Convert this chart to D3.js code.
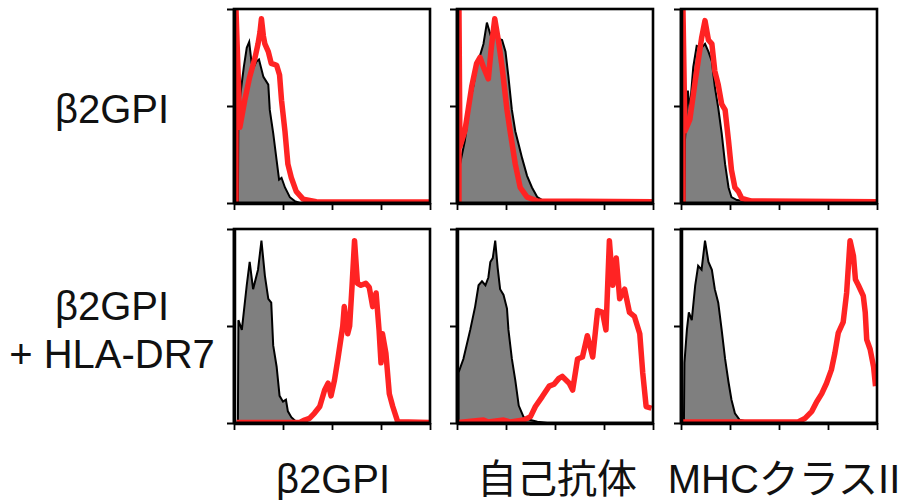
<!DOCTYPE html>
<html lang="ja">
<head>
  <meta charset="UTF-8">
  <title>β2GPI / HLA-DR7 flow cytometry</title>
  <style>
    body { margin: 0; background: #fff; }
    text { font-family: "Liberation Sans", Arial, "Noto Sans CJK JP", sans-serif; fill: #111; }
  </style>
</head>
<body>
  <script src="https://d3js.org/d3.v7.min.js"></script>
  <script>
    // row and column labels
    const rowLabels = [["β2GPI"], ["β2GPI", "+ HLA-DR7"]];
    const colLabels = ["β2GPI", "自己抗体", "MHCクラスII"];
    const yTicks = [0, 50, 100];

    // histograms: [log10 fluorescence, % of max]
    // row 1 : β2GPI only
    const singleB2gpiCtrl = [[0.08,0],[0.09,48],[0.14,58],[0.2,70],[0.26,80],[0.31,83],[0.36,72],[0.4,70],[0.46,73],[0.51,74],[0.6,65],[0.7,61],[0.73,48],[0.8,36],[0.87,22],[0.92,12],[0.97,13],[1.04,8],[1.14,3],[1.24,1],[1.34,0],[4,0]];
    const singleB2gpiStain = [[0.04,0],[0.04,100],[0.12,39],[0.22,53],[0.32,65],[0.43,75],[0.49,82],[0.53,88],[0.56,95],[0.6,86],[0.63,82],[0.7,78],[0.76,72],[0.87,71],[0.93,66],[0.97,53],[1.04,37],[1.1,20],[1.17,13],[1.27,6],[1.41,2],[1.68,0.7],[4,0.5]];
    const singleAutoAbCtrl = [[0.05,0],[0.06,20],[0.16,32],[0.27,53],[0.34,61],[0.4,70],[0.47,76],[0.54,82],[0.61,93],[0.68,87],[0.75,89],[0.82,85],[0.92,84],[0.99,78],[1.05,65],[1.12,48],[1.19,37],[1.26,30],[1.33,23],[1.43,14],[1.53,8],[1.64,3],[1.74,1.5],[1.98,0.5],[2.1,0],[4,0]];
    const singleAutoAbStain = [[0.04,0],[0.04,100],[0.06,29],[0.16,37],[0.3,60],[0.4,72],[0.47,75],[0.54,70],[0.64,64],[0.7,80],[0.77,95],[0.85,83],[0.92,70],[1.02,48],[1.09,36],[1.19,20],[1.29,8],[1.43,3],[1.64,1],[4,0.7]];
    const singleMhcCtrl = [[0.07,0],[0.08,32],[0.14,58],[0.18,48],[0.25,70],[0.32,81],[0.42,80],[0.49,82],[0.56,78],[0.63,73],[0.69,60],[0.76,49],[0.83,36],[0.9,20],[0.97,8],[1.03,3],[1.14,1.5],[1.31,1],[1.71,0.5],[1.8,0],[4,0]];
    const singleMhcStain = [[0.04,0],[0.04,100],[0.08,37],[0.18,43],[0.29,63],[0.35,73],[0.42,85],[0.49,94],[0.56,84],[0.63,82],[0.69,68],[0.76,61],[0.83,51],[0.9,48],[0.97,32],[1.03,17],[1.1,8],[1.17,6],[1.24,2.4],[1.44,1],[4,0.7]];
    // row 2 : β2GPI + HLA-DR7
    const dr7B2gpiCtrl = [[0.08,0],[0.09,53],[0.16,48],[0.26,71],[0.32,83],[0.39,69],[0.49,79],[0.56,94],[0.63,76],[0.7,64],[0.76,62],[0.8,40],[0.87,29],[0.93,14],[1.0,11],[1.06,12],[1.1,6],[1.17,3],[1.27,0.7],[1.34,0],[4,0]];
    const dr7B2gpiStain = [[0.05,0.3],[1.34,0.3],[1.44,1.5],[1.54,2.4],[1.64,5],[1.75,8.5],[1.85,17],[1.92,20.5],[1.98,14],[2.05,22],[2.12,33],[2.22,50],[2.25,60],[2.32,46],[2.36,50],[2.41,71],[2.46,94],[2.52,72],[2.59,71],[2.69,72],[2.76,70],[2.83,60],[2.9,67],[2.96,48],[3.0,31],[3.03,46],[3.1,36],[3.17,15],[3.24,8.5],[3.34,0.7],[4,0.3]];
    const dr7AutoAbCtrl = [[0.03,0],[0.03,26],[0.13,33],[0.27,48],[0.37,60],[0.44,71],[0.51,73],[0.58,71],[0.64,75],[0.68,83],[0.73,85],[0.78,94],[0.83,80],[0.88,69],[0.95,66],[1.02,59],[1.05,48],[1.12,33],[1.19,22],[1.26,9],[1.36,3],[1.5,1.5],[1.64,0.7],[1.84,0],[4,0]];
    const dr7AutoAbStain = [[0.03,0.3],[0.54,1.5],[0.64,0.5],[0.95,1.5],[1.09,0.5],[1.36,1.5],[1.5,3.3],[1.6,8.5],[1.74,13.6],[1.88,19],[1.98,20],[2.08,23],[2.15,24],[2.29,20.5],[2.36,17],[2.46,33],[2.56,34],[2.66,45],[2.77,34],[2.87,58],[2.97,57],[3.04,48],[3.11,94],[3.18,71],[3.25,85],[3.32,64],[3.42,69],[3.52,57],[3.62,55],[3.73,46],[3.79,26],[3.86,8.5],[3.97,7.6]];
    const dr7MhcCtrl = [[0.06,0],[0.07,31],[0.12,48],[0.16,57],[0.22,53],[0.29,71],[0.35,81],[0.42,79],[0.49,94],[0.56,83],[0.63,79],[0.69,69],[0.76,62],[0.83,48],[0.9,33],[0.97,21],[1.03,12],[1.1,5],[1.2,1.5],[1.37,0.7],[1.71,0.3],[1.8,0],[4,0]];
    const dr7MhcStain = [[0.03,0.5],[2.39,0.5],[2.53,2.4],[2.67,6],[2.77,11],[2.87,15],[2.97,20.5],[3.07,27.5],[3.14,36],[3.21,46.5],[3.31,52],[3.38,67],[3.45,94],[3.52,86],[3.56,74],[3.62,71],[3.72,65.5],[3.76,57],[3.79,43],[3.86,38],[3.93,29],[3.97,19]];

    const panels = [
      [[singleB2gpiCtrl, singleB2gpiStain], [singleAutoAbCtrl, singleAutoAbStain], [singleMhcCtrl, singleMhcStain]],
      [[dr7B2gpiCtrl, dr7B2gpiStain], [dr7AutoAbCtrl, dr7AutoAbStain], [dr7MhcCtrl, dr7MhcStain]]
    ];

    const width = 902, height = 500;
    const panelW = 196, panelH = 194;
    const colX = [234, 457, 681], rowY = [9, 229];
    const red = "#ff2323", grey = "#7f7f7f";

    const svg = d3.select("body").append("svg").attr("width", width).attr("height", height);

    const x = d3.scaleLog().domain([1, 1e4]).range([0, panelW]);
    const y = d3.scaleLinear().domain([0, 100]).range([panelH, 0]);
    const px = d => x(Math.pow(10, d[0]));

    const area = d3.area().x(px).y0(panelH).y1(d => y(d[1]));
    const line = d3.line().x(px).y(d => y(d[1]));

    svg.append("defs").append("clipPath").attr("id", "panel-clip")
      .append("rect").attr("x", 0).attr("y", 0).attr("width", panelW).attr("height", panelH);

    const isMajor = t => Math.abs(Math.log10(t) - Math.round(Math.log10(t))) < 1e-9;

    panels.forEach((row, ri) => {
      row.forEach(([ctrl, stain], ci) => {
        const g = svg.append("g").attr("transform", `translate(${colX[ci]},${rowY[ri]})`);
        const plot = g.append("g").attr("clip-path", "url(#panel-clip)");

        plot.append("path").datum(ctrl).attr("d", area).attr("fill", grey);
        plot.append("path").datum(ctrl).attr("d", line)
          .attr("fill", "none").attr("stroke", "#000").attr("stroke-width", 2);
        plot.append("path").datum(stain).attr("d", line)
          .attr("fill", "none").attr("stroke", red).attr("stroke-width", 5.5)
          .attr("stroke-linejoin", "round");

        // frame
        g.append("rect").attr("width", panelW).attr("height", panelH)
          .attr("fill", "none").attr("stroke", "#000").attr("stroke-width", 2.6);

        // log x axis
        const xa = g.append("g").attr("transform", `translate(0,${panelH})`)
          .call(d3.axisBottom(x).ticks(4).tickFormat("").tickSizeOuter(0));
        xa.select(".domain").attr("stroke-width", 3.5);
        xa.selectAll(".tick line")
          .attr("y2", d => isMajor(d) ? 7 : 4)
          .attr("stroke-width", 1.8);

        const ya = g.append("g")
          .call(d3.axisLeft(y).tickValues(yTicks).tickFormat("").tickSize(7).tickSizeOuter(0));
        ya.select(".domain").attr("stroke-width", 3.5);
        ya.selectAll(".tick line").attr("stroke-width", 2);
      });
    });

    // row labels
    const rowBase = [[123], [320, 368]];
    rowLabels.forEach((lines, ri) => {
      lines.forEach((t, li) => {
        svg.append("text").attr("x", 112).attr("y", rowBase[ri][li])
          .attr("text-anchor", "middle").attr("font-size", 40).text(t);
      });
    });

    // column labels
    const colCenter = [333, 557, 784];
    colLabels.forEach((t, ci) => {
      svg.append("text").attr("x", colCenter[ci]).attr("y", 493)
        .attr("text-anchor", "middle").attr("font-size", 40).text(t);
    });
  </script>
</body>
</html>
